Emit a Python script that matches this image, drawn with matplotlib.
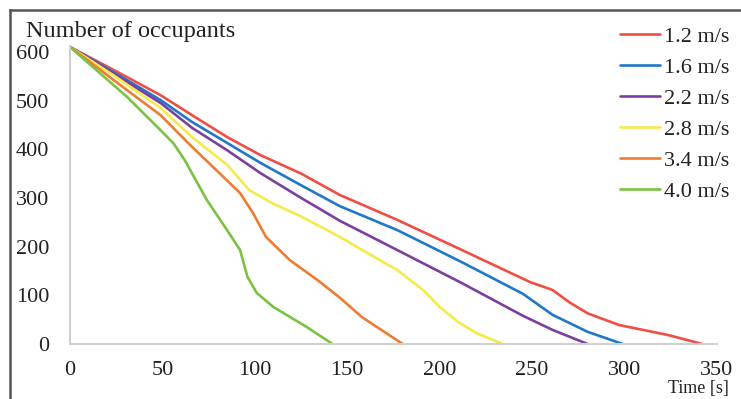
import matplotlib.pyplot as plt
from matplotlib.lines import Line2D

plt.rcParams['font.family'] = ['Liberation Serif', 'DejaVu Serif']

labels = ['1.2 m/s', '1.6 m/s', '2.2 m/s', '2.8 m/s', '3.4 m/s', '4.0 m/s']
colors = ['#F04E45', '#1F78C8', '#7B3FA0', '#F5EA4A', '#EE7D31', '#7CC242']

t_12 = [0, 25, 49, 66, 85, 103, 125, 146, 177, 212, 249, 261, 270, 280, 297, 324, 342]
n_12 = [610, 560, 511, 470, 425, 388, 350, 306, 255, 193, 127, 111, 86, 63, 39, 18, 0]

t_16 = [0, 25, 49, 66, 85, 103, 125, 146, 177, 212, 245, 261, 280, 299]
n_16 = [610, 555, 501, 456, 413, 372, 326, 283, 234, 168, 103, 60, 25, 0]

t_22 = [0, 25, 49, 66, 85, 103, 125, 146, 177, 212, 245, 261, 280]
n_22 = [610, 552, 495, 444, 398, 351, 300, 253, 193, 125, 58, 29, 0]

t_28 = [0, 25, 49, 66, 85, 97, 110, 125, 146, 158, 177, 191, 200, 210, 220, 234]
n_28 = [610, 548, 485, 425, 368, 316, 288, 262, 220, 193, 152, 111, 76, 45, 22, 0]

t_34 = [0, 31, 49, 66, 83, 92, 99, 106, 119, 134, 146, 158, 170, 180]
n_34 = [610, 521, 470, 405, 343, 310, 269, 220, 172, 131, 95, 55, 25, 0]

t_40 = [0, 31, 49, 56, 62, 74, 86, 92, 96, 101, 110, 128, 142]
n_40 = [610, 507, 439, 412, 378, 296, 228, 193, 138, 105, 76, 35, 0]

series = [(t_12, n_12), (t_16, n_16), (t_22, n_22), (t_28, n_28), (t_34, n_34), (t_40, n_40)]

fig = plt.figure(figsize=(7.41, 3.99), dpi=100)
ax = fig.add_axes([70/741, 1 - 344/399, 647/741, 298/399])

for (t, n), c, lab in zip(series, colors, labels):
    ax.plot(t, n, color=c, lw=1.9, label=lab, solid_capstyle='round', solid_joinstyle='round')

ax.set_xlim(0, 350)
ax.set_ylim(0, 612)
ax.set_xticks(range(0, 351, 50))
ax.set_yticks(range(0, 601, 100))
ax.tick_params(length=0, labelsize=16, colors='#222222')
ax.tick_params(axis='x', pad=12)
ax.tick_params(axis='y', pad=15)
for s in ['top', 'right']:
    ax.spines[s].set_visible(False)
for s in ['left', 'bottom']:
    ax.spines[s].set_color('#d0d0d0')
    ax.spines[s].set_linewidth(1.5)

fig.text(26/741, 1 - 32/399, 'Number of occupants', fontsize=17.5, va='center', ha='left', color='#222222')
fig.text(729/741, 1 - 388/399, 'Time [s]', fontsize=13, va='center', ha='right', color='#222222')

fig.legend(loc='upper left', bbox_to_anchor=(620/741, 1 - 26/399), frameon=False,
           fontsize=16, handlelength=1.8, handletextpad=0.2, labelspacing=0.47,
           borderpad=0, borderaxespad=0, labelcolor='#222222')

fig.add_artist(Line2D([10/741, 1], [1 - 10/399, 1 - 10/399], color='#555555', lw=1.8))
fig.add_artist(Line2D([10/741, 10/741], [0, 1 - 10/399], color='#555555', lw=1.8))

fig.savefig('out.png', dpi=100)
